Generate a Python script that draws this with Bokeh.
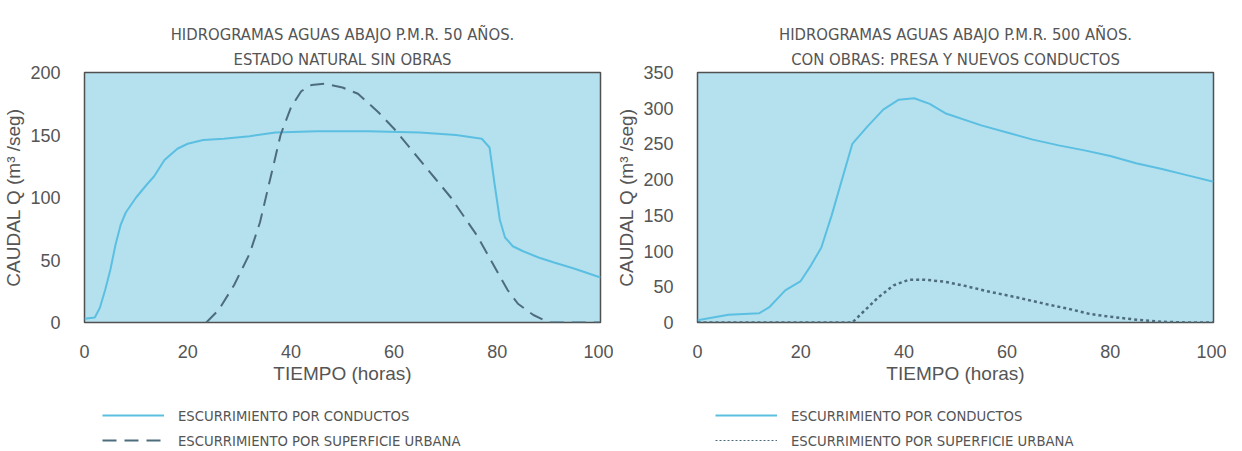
from bokeh.plotting import figure
from bokeh.layouts import row, column
from bokeh.models import Range1d, FixedTicker, Legend, LegendItem, Title
from bokeh.embed import file_html
from bokeh.resources import INLINE

# ---- data ----
left_title = ["HIDROGRAMAS AGUAS ABAJO P.M.R. 50 AÑOS.", "ESTADO NATURAL SIN OBRAS"]
right_title = ["HIDROGRAMAS AGUAS ABAJO P.M.R. 500 AÑOS.", "CON OBRAS: PRESA Y NUEVOS CONDUCTOS"]
series_names = ["ESCURRIMIENTO POR CONDUCTOS", "ESCURRIMIENTO POR SUPERFICIE URBANA"]

l_cond_x = [0, 2, 3, 4, 5, 6, 7, 8, 10, 12, 13.5, 15.5, 18, 20, 23, 27, 32, 37, 45, 55, 65, 72, 77, 78.5, 79.5, 80.5, 81.5, 83, 85, 88, 91, 95, 100]
l_cond_y = [3, 4, 12, 26, 42, 62, 78, 88, 100, 110, 117, 130, 139, 143, 146, 147, 149, 152, 153, 153, 152, 150, 147, 140, 110, 82, 68, 61, 57, 52, 48, 43, 36]
l_urb_x = [23.6, 26, 29, 32, 34, 36, 38, 40, 42, 44, 46.5, 50, 53, 57, 60, 64, 68, 71, 74, 76, 79, 82, 84, 87, 90, 100]
l_urb_y = [0, 10, 30, 55, 80, 115, 150, 172, 185, 190, 191, 188, 183, 168, 155, 135, 115, 100, 82, 70, 48, 26, 15, 6, 0, 0]

r_cond_x = [0, 3, 6, 12, 14, 17, 20, 22, 24, 26, 28, 30, 33, 36, 39, 42, 45, 48, 55, 60, 65, 70, 75, 80, 85, 90, 95, 100]
r_cond_y = [3, 7, 11, 13, 22, 45, 58, 80, 105, 150, 200, 250, 275, 298, 312, 314, 306, 293, 276, 266, 256, 248, 241, 233, 223, 215, 206, 197]
r_urb_x = [0, 30, 32, 35, 38, 41, 44, 48, 52, 56, 62, 68, 72, 76, 80, 85, 90, 95, 100]
r_urb_y = [0, 0, 14, 35, 52, 60, 60, 57, 51, 44, 35, 25, 19, 12, 8, 4, 1, 0, 0]

x_ticks = [0, 20, 40, 60, 80, 100]
l_y_ticks = [0, 50, 100, 150, 200]
r_y_ticks = [0, 50, 100, 150, 200, 250, 300, 350]

BG = "#b5e1ee"
COND = "#5bbfe2"
URB = "#4d6c7c"
TXT = "#555555"
FONT = "Liberation Sans"
NARROW = "'Liberation Sans Narrow', 'Arial Narrow', 'DejaVu Sans Condensed', 'Liberation Sans'"


def make(titles, ymax, yticks, cx, cy, ux, uy, dash, uwidth):
    p = figure(width=613, height=392, output_backend="svg", toolbar_location=None,
               x_range=Range1d(0, 100), y_range=Range1d(0, ymax),
               min_border_left=84, min_border_right=13, min_border_top=72, min_border_bottom=70)
    p.title = None
    stand = [0, 8]
    for t, s in list(zip(titles, stand))[::-1]:
        p.add_layout(Title(text=t, align="center", text_font=NARROW, text_font_size="16.5px",
                           text_font_style="normal", text_color=TXT, standoff=s), "above")
    p.background_fill_color = BG
    p.border_fill_color = "white"
    p.outline_line_color = "#505050"
    p.outline_line_width = 1.5
    p.grid.visible = False
    for ax in (p.xaxis[0], p.yaxis[0]):
        ax.axis_line_color = None
        ax.major_tick_line_color = None
        ax.minor_tick_line_color = None
        ax.major_label_text_font = FONT
        ax.major_label_text_font_size = "18px"
        ax.major_label_text_color = TXT
        ax.axis_label_text_font = FONT
        ax.axis_label_text_font_size = "19px"
        ax.axis_label_text_font_style = "normal"
        ax.axis_label_text_color = TXT
    p.xaxis.ticker = FixedTicker(ticks=x_ticks)
    p.yaxis.ticker = FixedTicker(ticks=yticks)
    p.xaxis.axis_label = "TIEMPO (horas)"
    p.yaxis.axis_label = "CAUDAL Q (m³ /seg)"
    p.xaxis.major_label_standoff = 16
    p.yaxis.major_label_standoff = 18
    p.xaxis.axis_label_standoff = 2
    p.yaxis.axis_label_standoff = 3

    p.line(cx, cy, line_color=COND, line_width=2)
    p.line(ux, uy, line_color=URB, line_width=uwidth, line_dash=dash)
    return p


def make_legend(cx, cy, ux, uy, dash, uwidth):
    # legend-only strip: the series lines lie outside this strip's view, only the legend shows
    q = figure(width=613, height=58, output_backend="svg", toolbar_location=None,
               x_axis_type=None, y_axis_type=None,
               x_range=Range1d(1000, 1001), y_range=Range1d(1000, 1001), min_border=0)
    q.outline_line_color = None
    q.grid.visible = False
    q.background_fill_color = "white"
    g1 = q.line(cx, cy, line_color=COND, line_width=2)
    g2 = q.line(ux, uy, line_color=URB, line_width=uwidth, line_dash=dash)
    leg = Legend(items=[LegendItem(label=series_names[0], renderers=[g1]),
                        LegendItem(label=series_names[1], renderers=[g2])],
                 location=(102, 0), orientation="vertical",
                 label_text_font=NARROW, label_text_font_size="14.7px", label_text_color=TXT,
                 glyph_width=62, glyph_height=20, label_height=20, spacing=5, label_standoff=14,
                 border_line_color=None, background_fill_alpha=0, padding=0, margin=0)
    q.add_layout(leg, "center")
    return q


p1 = make(left_title, 200, l_y_ticks, l_cond_x, l_cond_y, l_urb_x, l_urb_y, "14 8", 2)
p2 = make(right_title, 350, r_y_ticks, r_cond_x, r_cond_y, r_urb_x, r_urb_y, "3 3", 2.5)
q1 = make_legend(l_cond_x, l_cond_y, l_urb_x, l_urb_y, "14 8", 2)
q2 = make_legend(r_cond_x, r_cond_y, r_urb_x, r_urb_y, "2 2", 1.2)

layout = column(row(p1, p2), row(q1, q2))
open("out.html", "w").write(file_html(layout, INLINE))
